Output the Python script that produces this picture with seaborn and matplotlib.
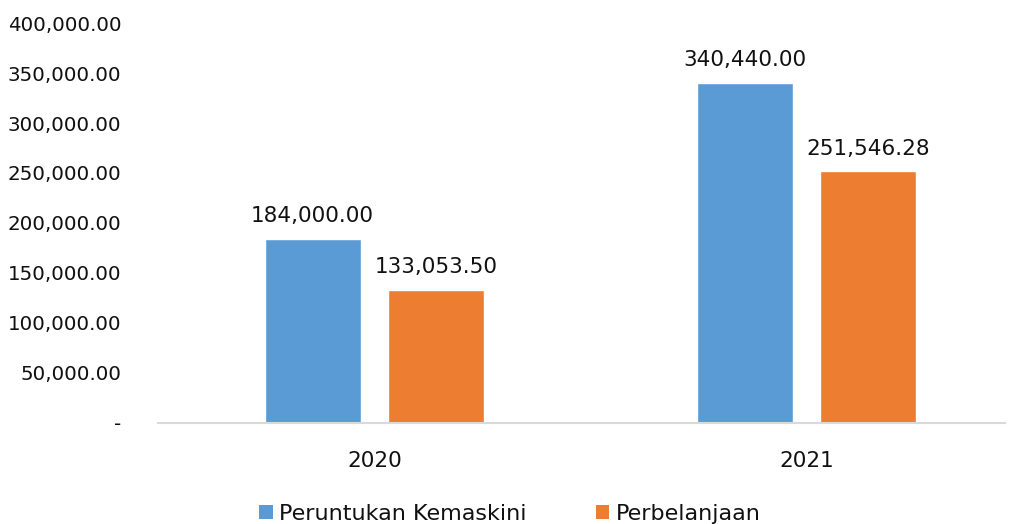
import matplotlib
matplotlib.use("Agg")
import matplotlib.pyplot as plt
import matplotlib.ticker as mticker
from matplotlib.patches import Patch
import seaborn as sns
import pandas as pd

years = ["2020", "2021"]
series_names = ["Peruntukan Kemaskini", "Perbelanjaan"]
peruntukan = [184000.00, 340440.00]
perbelanjaan = [133053.50, 251546.28]
colors = ["#5B9BD5", "#ED7D31"]

df = pd.DataFrame({
    "Tahun": years * 2,
    "Siri": [series_names[0]] * 2 + [series_names[1]] * 2,
    "Nilai": peruntukan + perbelanjaan,
})

sns.set_theme(style="white")
plt.rcParams["font.family"] = ["DejaVu Sans"]

fig = plt.figure(figsize=(10.10, 5.24), dpi=100)
ax = fig.add_axes([0.156, 0.193, 0.839, 0.763])

sns.barplot(data=df, x="Tahun", y="Nilai", hue="Siri", palette=colors,
            width=0.572, gap=0.223, ax=ax, legend=False, saturation=1)

for container in ax.containers:
    ax.bar_label(container, labels=[f"{v:,.2f}" for v in container.datavalues],
                 padding=9, fontsize=15.5, color="#111111")

ax.set_ylim(0, 400000)
ax.set_xlim(-0.502, 1.46)
ax.yaxis.set_major_locator(mticker.MultipleLocator(50000))
ax.yaxis.set_major_formatter(mticker.FuncFormatter(
    lambda v, p: "-" if v == 0 else f"{v:,.2f}"))
ax.tick_params(axis="y", length=0, pad=26, labelsize=14.3, labelcolor="#111111")
ax.tick_params(axis="x", length=0, pad=20, labelsize=15.5, labelcolor="#111111")
ax.set_xlabel("")
ax.set_ylabel("")
for s in ["top", "right", "left"]:
    ax.spines[s].set_visible(False)
ax.spines["bottom"].set_color("#D9D9D9")
ax.spines["bottom"].set_linewidth(1.5)

handles = [Patch(facecolor=c, edgecolor="none") for c in colors]
fig.legend(handles, series_names, loc="center", bbox_to_anchor=(0.505, 0.020),
           ncol=2, frameon=False, fontsize=16, handlelength=0.6, handleheight=0.6,
           handletextpad=0.3, columnspacing=3.1, labelcolor="#111111")

fig.savefig("out.png", dpi=100)
